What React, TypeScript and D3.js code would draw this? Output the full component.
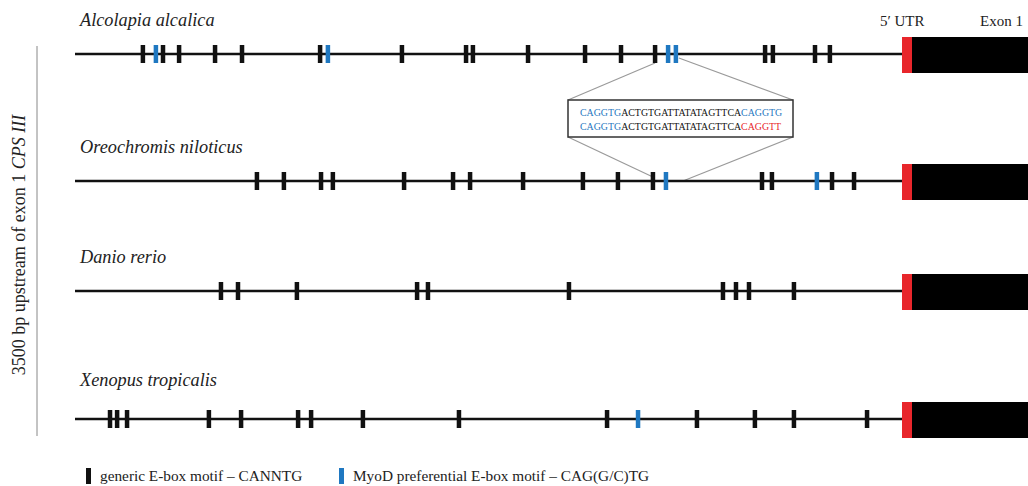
import React from "react";
import * as d3 from "d3";

// upstream positions in bp (3500 .. 0) of E-box motifs
const species = ["Alcolapia alcalica", "Oreochromis niloticus", "Danio rerio", "Xenopus tropicalis"];
const genericSites: number[][] = [
  [3213, 3128, 3060, 2908, 2794, 2464, 2118, 1847, 1818, 1585, 1344, 1192, 1048, 583, 550, 372, 309],
  [2731, 2617, 2460, 2410, 2109, 1902, 1830, 1606, 1353, 1205, 1057, 596, 554, 300, 207],
  [2883, 2811, 2562, 2054, 2008, 1412, 761, 706, 651, 461],
  [3352, 3322, 3280, 2934, 2798, 2557, 2502, 2283, 1877, 1251, 871, 626, 461, 152],
];
const myodSites: number[][] = [
  [3158, 2431, 993, 960],
  [1002, 364],
  [],
  [1120],
];
const seqTop = [
  { t: "CAGGTG", c: "blue" },
  { t: "ACTGTGATTATATAGTTCA", c: "black" },
  { t: "CAGGTG", c: "blue" },
];
const seqBottom = [
  { t: "CAGGTG", c: "blue" },
  { t: "ACTGTGATTATATAGTTCA", c: "black" },
  { t: "CAGGTT", c: "red" },
];
const legendItems = [
  { label: "generic E-box motif \u2013 CANNTG", c: "black" },
  { label: "MyoD preferential E-box motif \u2013 CAG(G/C)TG", c: "blue" },
];

const COL: Record<string, string> = { black: "#111111", blue: "#1f78c1", red: "#e8262b" };

export default function App() {
  const W = 1028, H = 486;
  const x = d3.scaleLinear().domain([3500, 0]).range([75, 903]);
  const rowY = [54, 181, 291, 419];
  const labelY = [26, 153, 263, 386];
  const font = "'Liberation Serif', 'DejaVu Serif', serif";
  const tickH = 18, tickW = 4.5;

  return (
    <svg width={W} height={H} style={{ position: "absolute", left: 0, top: 0 }} fontFamily={font}>
      <rect width={W} height={H} fill="white" />
      {/* y axis label and rule */}
      <line x1={37} x2={37} y1={46} y2={436} stroke="#888" strokeWidth={1} />
      <text transform={`translate(25,245) rotate(-90)`} textAnchor="middle" fontSize={18} fill="#222">
        3500 bp upstream of exon 1 <tspan fontStyle="italic">CPS III</tspan>
      </text>
      {/* header */}
      <text x={880} y={26} fontSize={15} fill="#222">5′ UTR</text>
      <text x={980} y={26} fontSize={15} fill="#222">Exon 1</text>

      {/* callout */}
      <g stroke="#9a9a9a" strokeWidth={1.2} fill="none">
        <line x1={x(1048)} y1={63} x2={568} y2={100} />
        <line x1={x(960) + 3} y1={58} x2={793} y2={100} />
        <line x1={568} y1={137} x2={x(1057)} y2={177} />
        <line x1={793} y1={137} x2={x(1002) + 17} y2={181} />
      </g>
      <rect x={568} y={100} width={225} height={37} fill="white" stroke="#333" strokeWidth={1.5} />
      <text x={580} y={116} fontSize={9.9}>
        {seqTop.map((s, i) => <tspan key={i} fill={COL[s.c]}>{s.t}</tspan>)}
      </text>
      <text x={580} y={130} fontSize={9.9}>
        {seqBottom.map((s, i) => <tspan key={i} fill={COL[s.c]}>{s.t}</tspan>)}
      </text>

      {species.map((sp, r) => {
        const y = rowY[r];
        return (
          <g key={sp}>
            <text x={80} y={labelY[r]} fontSize={18.3} fontStyle="italic" fill="#222">{sp}</text>
            <line x1={x(3500)} x2={x(0)} y1={y} y2={y} stroke="#111" strokeWidth={2.5} />
            {genericSites[r].map((p, i) => (
              <rect key={"g" + i} x={x(p) - tickW / 2} y={y - tickH / 2} width={tickW} height={tickH} fill={COL.black} />
            ))}
            {myodSites[r].map((p, i) => (
              <rect key={"m" + i} x={x(p) - tickW / 2} y={y - tickH / 2} width={tickW} height={tickH} fill={COL.blue} />
            ))}
            <rect x={x(0) - 1} y={y - 17} width={10} height={36} fill={COL.red} />
            <rect x={x(0) + 9} y={y - 17} width={W - x(0) - 9} height={36} fill="#000" />
          </g>
        );
      })}

      {/* legend */}
      {legendItems.map((it, i) => {
        const lx = i === 0 ? 86 : 339;
        return (
          <g key={i}>
            <rect x={lx} y={468} width={5} height={16} fill={COL[it.c]} />
            <text x={lx + 14} y={481} fontSize={15.3} fill="#222">{it.label}</text>
          </g>
        );
      })}
    </svg>
  );
}
